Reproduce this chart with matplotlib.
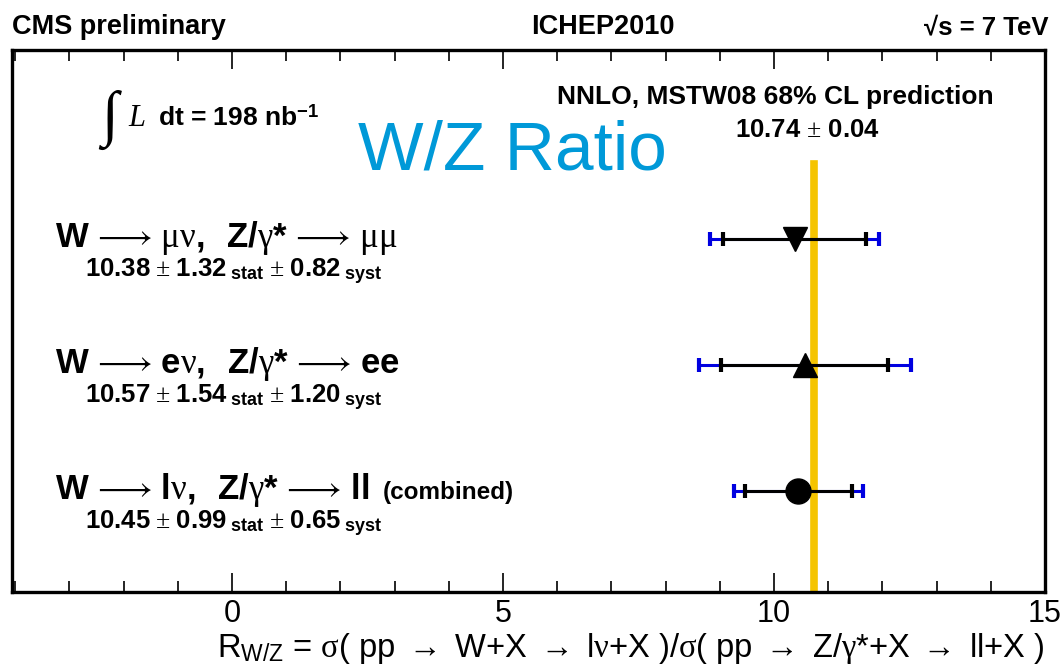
import numpy as np
import matplotlib
matplotlib.use('Agg')
from matplotlib import pyplot as plt

plt.rcParams['font.family'] = ['Liberation Sans', 'DejaVu Sans']
plt.rcParams['mathtext.fontset'] = 'custom'
plt.rcParams['mathtext.rm'] = 'Liberation Serif'
plt.rcParams['mathtext.it'] = 'Liberation Serif:italic'
plt.rcParams['mathtext.bf'] = 'Liberation Sans:bold'
plt.rcParams['mathtext.sf'] = 'Liberation Sans'

# measurements of R_W/Z (top to bottom)
channels = ['mu', 'e', 'combined']
ratio = np.array([10.38, 10.57, 10.45])
stat = np.array([1.32, 1.54, 0.99])
syst = np.array([0.82, 1.20, 0.65])
markers = ['v', '^', 'o']
ypos = np.array([3, 2, 1])

# theory prediction
pred = 10.74
pred_err = 0.04

total = np.sqrt(stat**2 + syst**2)

W, H = 1062, 670
fig = plt.figure(figsize=(W/100, H/100), dpi=100)
ax = fig.add_axes([12/W, (H-592)/H, (1045-12)/W, 542/H])

ax.set_xlim(-4.06, 15)
ax.set_ylim(0.2, 4.5)

# yellow prediction line
ax.axvline(pred, ymin=0, ymax=0.79, color='#F5C400', lw=5.5, zorder=1)

for i in range(len(ratio)):
    ax.errorbar(ratio[i], ypos[i], xerr=total[i], fmt='none', ecolor='#0000E0',
                elinewidth=2.2, capsize=5, capthick=3, zorder=2)
    ax.errorbar(ratio[i], ypos[i], xerr=stat[i], fmt='none', ecolor='black',
                elinewidth=2.2, capsize=5, capthick=3, zorder=3)
    ms = 17 if markers[i] != 'o' else 18
    ax.plot(ratio[i], ypos[i], marker=markers[i], color='black', ms=ms, zorder=4)

ax.set_xticks([0, 5, 10, 15])
ax.set_xticklabels(['0', '5', '10', '15'], fontsize=22)
ax.set_xticks(np.arange(-4, 16, 1), minor=True)
ax.set_yticks([])
ax.tick_params(axis='x', which='major', direction='in', length=14, width=1.2,
               top=True, pad=5)
ax.tick_params(axis='x', which='minor', direction='in', length=8, width=1.2,
               top=True)
for s in ax.spines.values():
    s.set_linewidth(2.4)

def fx(px):
    return px / W

def fy(py):
    return 1 - py / H

# header
fig.text(fx(12), fy(27), 'CMS preliminary', fontsize=19.5, fontweight='bold', va='center')
fig.text(fx(603), fy(27), 'ICHEP2010', fontsize=19.5, fontweight='bold', va='center', ha='center')
fig.text(fx(1048), fy(27), '\u221as = 7 TeV', fontsize=18.5, fontweight='bold',
         va='center', ha='right')

# luminosity
fig.text(fx(98), fy(120), r'$\int$', fontsize=44, va='center', family='DejaVu Serif')
fig.text(fx(128), fy(118), 'L', fontsize=22, style='italic', va='center', family='Liberation Serif')
fig.text(fx(158), fy(118), r'dt = 198 nb$^{\mathbf{-1}}$', fontsize=19, fontweight='bold', va='center')

# prediction label
fig.text(fx(775), fy(97), 'NNLO, MSTW08 68% CL prediction', fontsize=19, fontweight='bold',
         ha='center', va='center')
fig.text(fx(807), fy(130), '10.74 $\\mathrm{\\pm}$ 0.04', fontsize=18.5, fontweight='bold',
         ha='center', va='center')

# big title
fig.text(fx(512), fy(152), 'W/Z Ratio', fontsize=50, color='#0099D8', ha='center', va='center')

# channel labels
labels = [
    r'$\mathbf{W}\,\longrightarrow\,\mathrm{\mu\nu}\mathbf{,\ \ Z/}\mathrm{\gamma}\mathbf{*}\,\longrightarrow\,\mathrm{\mu\mu}$',
    r'$\mathbf{W}\,\longrightarrow\,\mathbf{e}\mathrm{\nu}\mathbf{,\ \ Z/}\mathrm{\gamma}\mathbf{*}\,\longrightarrow\,\mathbf{ee}$',
    r'$\mathbf{W}\,\longrightarrow\,\mathbf{l}\mathrm{\nu}\mathbf{,\ \ Z/}\mathrm{\gamma}\mathbf{*}\,\longrightarrow\,\mathbf{ll}$',
]
label_y = [238, 364, 490]
for i in range(3):
    fig.text(fx(55), fy(label_y[i]), labels[i], fontsize=25, va='center')
    val = (r'$\mathbf{%.2f}\ \mathrm{\pm}\ \mathbf{%.2f}_{\ \mathbf{stat}}\ \mathrm{\pm}\ '
           r'\mathbf{%.2f}_{\ \mathbf{syst}}$' % (ratio[i], stat[i], syst[i]))
    fig.text(fx(85), fy(label_y[i] + 34), val, fontsize=18.5, va='center')
fig.text(fx(383), fy(492), '(combined)', fontsize=17.5, fontweight='bold', va='center')

# x axis title
fig.text(fx(1045), fy(648),
         r'R$_{\mathsf{W/Z}}$ = $\mathrm{\sigma}$( pp $\rightarrow$ W+X $\rightarrow$ l$\mathrm{\nu}$+X )/'
         r'$\mathrm{\sigma}$( pp $\rightarrow$ Z/$\mathrm{\gamma}$*+X $\rightarrow$ ll+X )',
         fontsize=23.5, ha='right', va='center')

fig.savefig('out.png', dpi=100)
